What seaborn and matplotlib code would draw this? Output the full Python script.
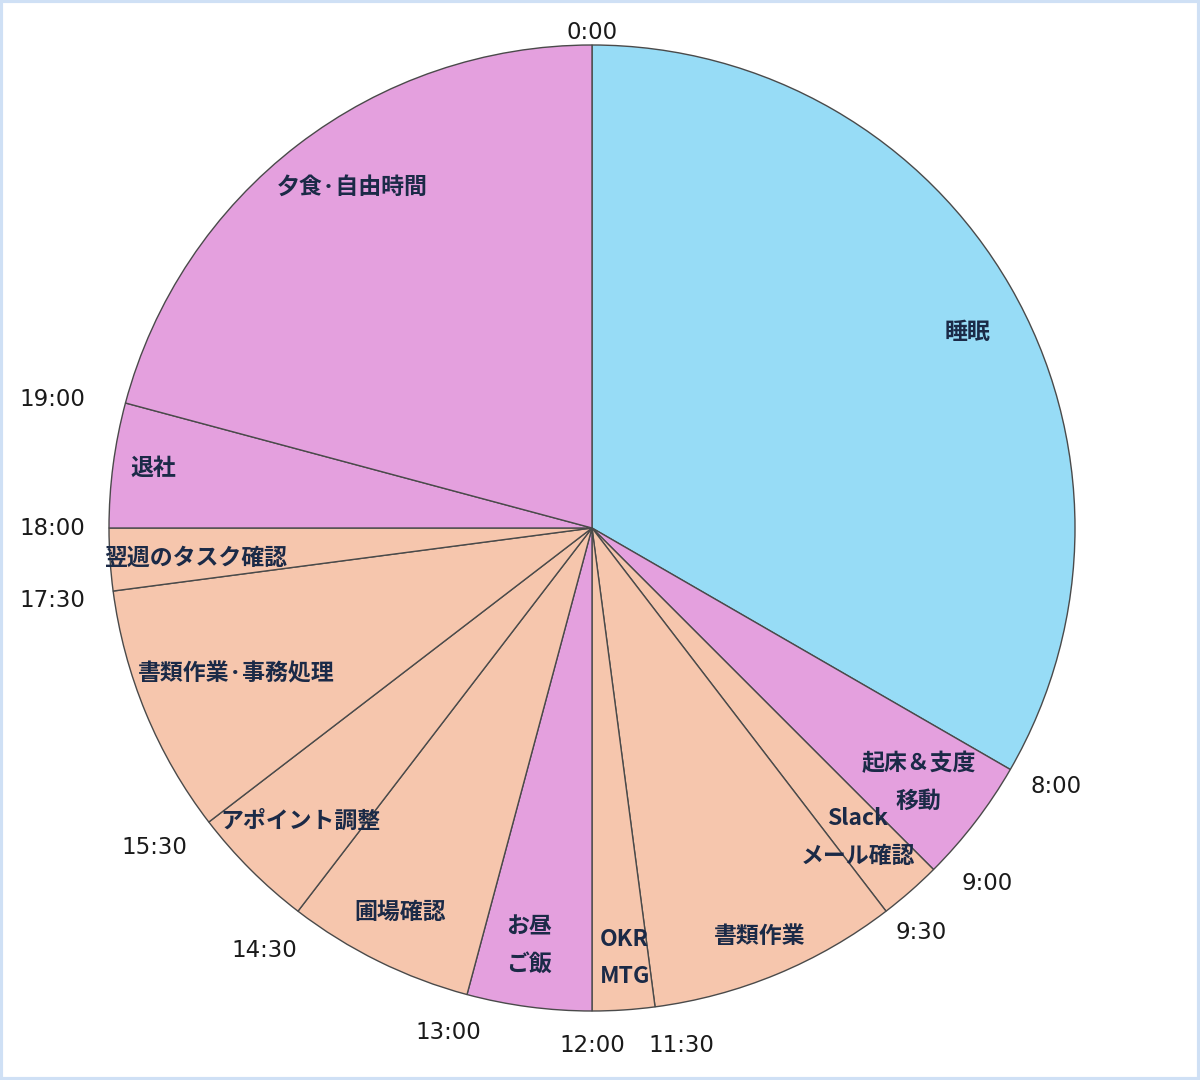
import numpy as np
import matplotlib
matplotlib.use("Agg")
import matplotlib.pyplot as plt
import seaborn as sns

# ---- data ----
activities = ["睡眠", "起床＆支度\n移動", "Slack\nメール確認", "書類作業", "OKR\nMTG",
              "お昼\nご飯", "圃場確認", "アポイント調整", "書類作業·事務処理",
              "翌週のタスク確認", "退社", "夕食·自由時間"]
hours = [8, 1, 0.5, 2, 0.5, 1, 1.5, 1, 2, 0.5, 1, 5]
kinds = ["sleep", "private", "work", "work", "work", "private", "work", "work",
         "work", "work", "private", "private"]
time_labels = ["0:00", "8:00", "9:00", "9:30", "11:30", "12:00", "13:00",
               "14:30", "15:30", "17:30", "18:00", "19:00"]

# ---- style ----
sns.set_theme(style="white")
plt.rcParams['font.family'] = ['Noto Sans CJK JP', 'DejaVu Sans']
kind_colors = {"sleep": "#97DCF6", "private": "#E4A0DE", "work": "#F6C6AD"}
colors = [kind_colors[k] for k in kinds]
label_color = "#1B2A47"

# label layout: clock position (hours) and radius fraction
label_at = [4.17, 8.53, 9.29, 10.51, 11.71, 12.57, 13.77, 14.99, 16.51, 17.71, 18.52, 21.66]
label_r = [0.877, 0.857, 0.845, 0.915, 0.893, 0.874, 0.889, 0.857, 0.797, 0.824, 0.917, 0.863]
tick_at = [0, 7.94, 8.80, 9.39, 11.35, 12.0, 13.06, 14.52, 15.59, 17.49, 18.0, 18.89]
tick_r = [1.025, 1.10, 1.10, 1.079, 1.088, 1.072, 1.085, 1.106, 1.122, 1.128, 1.118, 1.149]

fig = plt.figure(figsize=(12, 10.8), dpi=100)
R_px = 483
cx, cy = 592, 1080 - 528
ax = fig.add_axes([(cx - R_px) / 1200, (cy - R_px) / 1080, 2 * R_px / 1200, 2 * R_px / 1080])

ax.pie(hours, colors=colors, startangle=90, counterclock=False, radius=1.0,
       wedgeprops=dict(edgecolor="#4a4a4a", linewidth=1.0))
ax.set_xlim(-1, 1)
ax.set_ylim(-1, 1)
ax.set_aspect("equal")
ax.axis("off")

total = sum(hours)

def pos(h, r):
    a = np.deg2rad(h / total * 360.0)
    return r * np.sin(a), r * np.cos(a)

for i, lab in enumerate(activities):
    x, y = pos(label_at[i], label_r[i])
    ax.text(x, y, lab, ha="center", va="center", fontsize=16.5, fontweight="bold",
            color=label_color, linespacing=1.8, clip_on=False)

for i, tl in enumerate(time_labels):
    x, y = pos(tick_at[i], tick_r[i])
    ax.text(x, y, tl, ha="center", va="center", fontsize=16.5, color="#1a1a1a",
            family="DejaVu Sans", clip_on=False)

# light blue frame
fig.patches.append(plt.Rectangle((0.001, 0.001), 0.998, 0.998, transform=fig.transFigure,
                                 fill=False, edgecolor="#CFE0F5", linewidth=3))

fig.savefig("out.png", dpi=100, facecolor="white")
